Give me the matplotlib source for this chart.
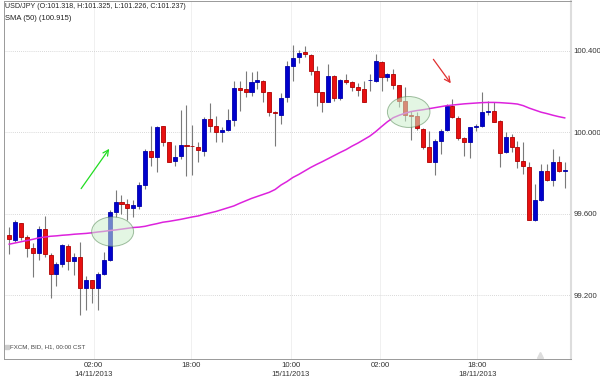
import numpy as np
import matplotlib
matplotlib.use('Agg')
import matplotlib.pyplot as plt
from matplotlib.patches import Ellipse

plt.rcParams['font.family'] = ['Liberation Sans', 'DejaVu Sans']

# hourly USD/JPY candles
opens = [99.494, 99.469, 99.554, 99.486, 99.429, 99.407, 99.523, 99.397, 99.303, 99.355,
         99.441, 99.366, 99.388, 99.233, 99.273, 99.233, 99.303, 99.371, 99.608, 99.657,
         99.649, 99.630, 99.636, 99.739, 99.907, 99.878, 100.029, 99.951, 99.861, 99.882,
         99.940, 99.935, 99.930, 99.910, 100.066, 100.033, 100.003, 100.012, 100.062, 100.216,
         100.213, 100.199, 100.245, 100.253, 100.199, 100.101, 100.087, 100.172, 100.327, 100.368,
         100.397, 100.381, 100.302, 100.199, 100.150, 100.278, 100.167, 100.258, 100.248, 100.221,
         100.213, 100.256, 100.250, 100.346, 100.270, 100.286, 100.232, 100.155, 100.087, 100.078,
         100.017, 99.927, 99.853, 99.959, 100.012, 100.127, 100.069, 99.971, 99.951, 100.025,
         100.033, 100.101, 100.106, 100.057, 99.902, 99.976, 99.927, 99.858, 99.829, 99.567,
         99.665, 99.812, 99.767, 99.856, 99.812]
highs = [99.534, 99.567, 99.556, 99.494, 99.455, 99.538, 99.587, 99.405, 99.363, 99.453,
         99.453, 99.407, 99.461, 99.293, 99.275, 99.314, 99.412, 99.616, 99.718, 99.690,
         99.674, 99.669, 99.755, 99.919, 100.029, 100.033, 100.031, 99.953, 99.940, 100.111,
         100.134, 100.036, 99.954, 100.077, 100.144, 100.082, 100.025, 100.115, 100.253, 100.253,
         100.302, 100.297, 100.302, 100.257, 100.200, 100.106, 100.193, 100.351, 100.428, 100.405,
         100.425, 100.384, 100.327, 100.200, 100.335, 100.281, 100.262, 100.286, 100.253, 100.242,
         100.253, 100.286, 100.384, 100.351, 100.291, 100.311, 100.234, 100.221, 100.106, 100.101,
         100.019, 100.008, 99.968, 100.017, 100.139, 100.164, 100.082, 99.976, 100.025, 100.041,
         100.196, 100.152, 100.147, 100.059, 100.000, 99.992, 99.959, 99.951, 99.853, 99.744,
         99.845, 99.845, 99.919, 99.886, 99.856]
lows = [99.404, 99.460, 99.469, 99.388, 99.290, 99.371, 99.388, 99.184, 99.244, 99.338,
        99.322, 99.298, 99.102, 99.126, 99.159, 99.126, 99.300, 99.368, 99.583, 99.600,
        99.567, 99.583, 99.625, 99.719, 99.833, 99.807, 99.935, 99.853, 99.833, 99.870,
        99.784, 99.791, 99.856, 99.882, 100.000, 99.954, 99.951, 100.008, 100.033, 100.106,
        100.172, 100.180, 100.213, 100.150, 100.082, 99.931, 100.041, 100.147, 100.253, 100.343,
        100.368, 100.281, 100.127, 100.098, 100.148, 100.155, 100.160, 100.237, 100.204, 100.180,
        100.147, 100.204, 100.248, 100.204, 100.253, 100.213, 100.123, 100.057, 99.964, 100.013,
        99.920, 99.853, 99.788, 99.894, 100.008, 100.071, 99.963, 99.886, 99.875, 100.008,
        100.025, 100.085, 100.049, 99.829, 99.897, 99.902, 99.826, 99.793, 99.567, 99.565,
        99.663, 99.763, 99.734, 99.804, 99.728]
closes = [99.474, 99.559, 99.486, 99.432, 99.407, 99.523, 99.401, 99.303, 99.352, 99.445,
          99.366, 99.388, 99.233, 99.273, 99.233, 99.303, 99.371, 99.608, 99.657, 99.649,
          99.630, 99.641, 99.742, 99.910, 99.878, 100.025, 99.951, 99.856, 99.881, 99.940,
          99.935, 99.931, 99.914, 100.066, 100.033, 100.000, 100.012, 100.062, 100.216, 100.209,
          100.196, 100.245, 100.257, 100.199, 100.101, 100.093, 100.167, 100.327, 100.365, 100.392,
          100.384, 100.302, 100.199, 100.150, 100.278, 100.167, 100.258, 100.248, 100.221, 100.209,
          100.150, 100.258, 100.351, 100.270, 100.286, 100.232, 100.155, 100.085, 100.078, 100.020,
          99.927, 99.855, 99.959, 100.008, 100.127, 100.074, 99.971, 99.954, 100.025, 100.033,
          100.101, 100.106, 100.052, 99.897, 99.976, 99.927, 99.858, 99.832, 99.567, 99.665,
          99.812, 99.767, 99.856, 99.812, 99.817]
sma50 = [99.450, 99.456, 99.462, 99.468, 99.474, 99.481, 99.485, 99.489, 99.491, 99.494,
         99.496, 99.499, 99.501, 99.503, 99.506, 99.510, 99.513, 99.517, 99.520, 99.524,
         99.528, 99.532, 99.534, 99.538, 99.545, 99.551, 99.558, 99.562, 99.567, 99.572,
         99.578, 99.584, 99.589, 99.597, 99.604, 99.611, 99.620, 99.629, 99.638, 99.651,
         99.663, 99.675, 99.685, 99.695, 99.705, 99.719, 99.741, 99.758, 99.778, 99.793,
         99.810, 99.827, 99.842, 99.856, 99.871, 99.886, 99.901, 99.915, 99.932, 99.947,
         99.964, 99.981, 100.003, 100.028, 100.052, 100.072, 100.084, 100.094, 100.102, 100.107,
         100.111, 100.116, 100.121, 100.126, 100.131, 100.134, 100.137, 100.140, 100.142, 100.144,
         100.146, 100.147, 100.147, 100.146, 100.144, 100.142, 100.139, 100.131, 100.119, 100.109,
         100.099, 100.092, 100.084, 100.077, 100.071]

tick_pos = [14.3, 30.7, 47.6, 62.8, 79.2]
tick_labels = ['02:00\n14/11/2013', '18:00', '10:00\n15/11/2013', '02:00', '18:00\n18/11/2013']
price_ticks = [99.2, 99.6, 100.0, 100.4]

title_text = 'USD/JPY (O:101.318, H:101.325, L:101.226, C:101.237)'
sma_text = 'SMA (50) (100.915)'
source_text = 'FXCM, BID, H1, 00:00 CST'

# annotation shapes (candle index, price)
ellipses = [(17.5, 99.512, 7.1, 0.144), (67.6, 100.100, 7.2, 0.152)]

o = np.array(opens)
h = np.array(highs)
l = np.array(lows)
c = np.array(closes)
x = np.arange(len(o))

fig = plt.figure(figsize=(6, 3.77), dpi=100)
ax = fig.add_axes([0.006, 0.048, 0.946, 0.949])

up = c >= o
body_col = np.where(up, '#0000cc', '#e81010')
edge_col = np.where(up, '#0000aa', '#b00000')

ax.vlines(x, l, h, color='#7a7a7a', linewidth=0.8, zorder=2)
ax.bar(x, np.abs(c - o), bottom=np.minimum(o, c), width=0.68,
       color=body_col, edgecolor=edge_col, linewidth=0.6, zorder=3)

ax.plot(x, sma50, color='#dd22dd', linewidth=1.1, zorder=4)

for ex, ey, ew, eh in ellipses:
    ax.add_patch(Ellipse((ex, ey), ew, eh, facecolor='#ccf0cc', edgecolor='#558855',
                         linewidth=0.7, alpha=0.55, zorder=5))

ax.annotate('', xy=(17.2, 99.930), xytext=(11.9, 99.712),
            arrowprops=dict(arrowstyle='->', color='#22dd22', lw=0.9))
ax.annotate('', xy=(75.0, 100.230), xytext=(71.5, 100.370),
            arrowprops=dict(arrowstyle='->', color='#e03030', lw=0.9))

ax.set_xlim(-0.95, 95.1)
ax.set_ylim(98.886, 100.645)

ax.yaxis.tick_right()
ax.set_yticks(price_ticks)
ax.set_yticklabels(['%.3f' % p for p in price_ticks])
ax.set_xticks(tick_pos)
ax.set_xticklabels(tick_labels, linespacing=1.45)
ax.tick_params(axis='both', length=0, labelsize=5.6, labelcolor='#333333')
ax.tick_params(axis='y', pad=1.5)
ax.tick_params(axis='x', pad=2)

ax.grid(axis='y', color='#cccccc', linestyle=(0, (1, 1.5)), linewidth=0.6)
ax.grid(axis='x', color='#eeeeee', linestyle='-', linewidth=0.6)
ax.set_axisbelow(True)

for side in ['left', 'bottom', 'top']:
    ax.spines[side].set_color('#999999')
    ax.spines[side].set_linewidth(0.7)
ax.spines['right'].set_color('#dddddd')
ax.spines['right'].set_linewidth(1.5)

ax.text(0.002, 0.995, title_text, transform=ax.transAxes, fontsize=5.1,
        color='#222222', va='top', ha='left')
ax.text(0.002, 0.962, sma_text, transform=ax.transAxes, fontsize=5.5,
        color='#222222', va='top', ha='left')
ax.text(0.012, 0.033, source_text, transform=ax.transAxes, fontsize=4.4,
        color='#444444', va='center', ha='left')
ax.plot([0.006], [0.033], marker='s', markersize=2.5, color='#cccccc',
        transform=ax.transAxes, clip_on=False)
ax.plot([89.8], [98.905], marker='^', markersize=5, color='#dddddd', zorder=1)

fig.savefig('out.png', dpi=100)
